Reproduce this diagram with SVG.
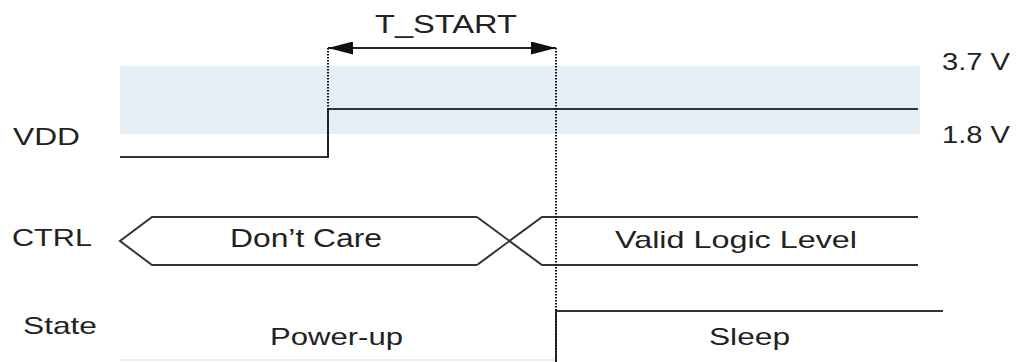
<svg xmlns="http://www.w3.org/2000/svg" width="1020" height="362" viewBox="0 0 1020 362">
  <defs>
    <marker id="ah" viewBox="0 0 25 13" refX="25" refY="6.5" markerWidth="25" markerHeight="13" markerUnits="userSpaceOnUse" orient="auto-start-reverse">
      <path d="M0,0 L25,6.5 L0,13 Z" fill="#111"/>
    </marker>
  </defs>
  <style>
    text { font-family: "Liberation Sans", Arial, sans-serif; font-size: 24px; fill: #222; }
    .sig { fill: none; stroke: #333; stroke-width: 2; }
    .dot { fill: none; stroke: #111; stroke-width: 2; stroke-dasharray: 1.5 1.5; }
  </style>
  <rect width="1020" height="362" fill="#fff"/>
  <g id="band">
    <rect x="120" y="66" width="800" height="68" fill="#e4f0f6"/>
  </g>
  <g id="labels">
    <text x="13" y="145" textLength="67" lengthAdjust="spacingAndGlyphs">VDD</text>
    <text x="12" y="246" textLength="80" lengthAdjust="spacingAndGlyphs">CTRL</text>
    <text x="23" y="334" textLength="74" lengthAdjust="spacingAndGlyphs">State</text>
    <text x="942" y="70" textLength="68" lengthAdjust="spacingAndGlyphs">3.7 V</text>
    <text x="942" y="143" textLength="68" lengthAdjust="spacingAndGlyphs">1.8 V</text>
  </g>
  <g id="vdd">
    <polyline class="sig" points="120,157 328,157 328,109 918,109"/>
  </g>
  <g id="ctrl-dontcare">
    <polyline class="sig" points="477,217 152,217 120,241 152,265 477,265"/>
    <text x="230" y="247" style="font-size:25px" textLength="152" lengthAdjust="spacingAndGlyphs">Don’t Care</text>
  </g>
  <g id="ctrl-valid">
    <polyline class="sig" points="918,217 542,217 477,265"/>
    <polyline class="sig" points="918,265 542,265 477,217"/>
    <text x="615" y="248" textLength="242" lengthAdjust="spacingAndGlyphs">Valid Logic Level</text>
  </g>
  <g id="state-powerup">
    <line x1="120" y1="360" x2="556" y2="360" stroke="#e6e6e6" stroke-width="1.5"/>
    <text x="270" y="345" textLength="133" lengthAdjust="spacingAndGlyphs">Power-up</text>
  </g>
  <g id="state-sleep">
    <polyline class="sig" points="556,362 556,311 943,311"/>
    <text x="709" y="345" textLength="81" lengthAdjust="spacingAndGlyphs">Sleep</text>
  </g>
  <g id="connectors">
    <line class="dot" x1="328" y1="48" x2="328" y2="157"/>
    <line class="dot" x1="556" y1="48" x2="556" y2="362"/>
    <line x1="328" y1="48" x2="556" y2="48" stroke="#222" stroke-width="2" marker-start="url(#ah)" marker-end="url(#ah)"/>
    <text x="375" y="33" style="font-size:26px" textLength="142" lengthAdjust="spacingAndGlyphs">T_START</text>
  </g>
</svg>
